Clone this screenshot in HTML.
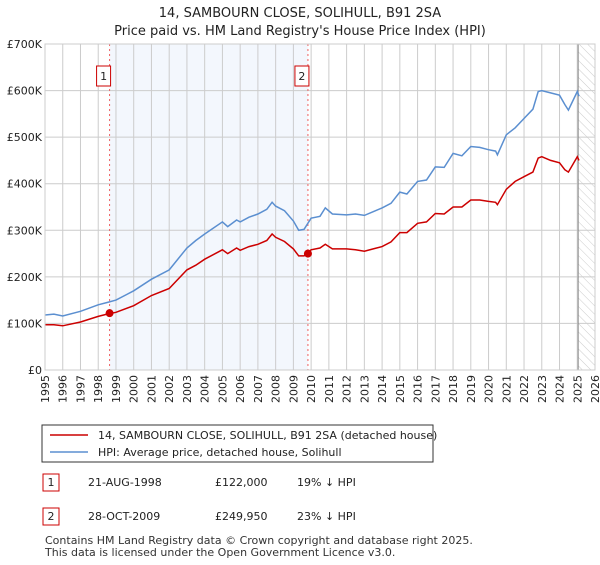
<!DOCTYPE html>
<html><head><meta charset="utf-8"><style>
body{margin:0;background:#fff;font-family:"Liberation Sans","DejaVu Sans",sans-serif;}
svg text{font-family:"DejaVu Sans","Liberation Sans",sans-serif;}
</style></head><body>
<svg id="c" width="600" height="560" xmlns="http://www.w3.org/2000/svg">
<defs><pattern id="hatch" width="6" height="6" patternUnits="userSpaceOnUse" patternTransform="rotate(-45)"><line x1="0" y1="0" x2="0" y2="6" stroke="#ccc" stroke-width="1"/></pattern></defs>
<text x="300" y="17" text-anchor="middle" font-size="13" fill="#222">14, SAMBOURN CLOSE, SOLIHULL, B91 2SA</text>
<text x="300" y="35" text-anchor="middle" font-size="13" fill="#222">Price paid vs. HM Land Registry's House Price Index (HPI)</text>
<g id="plot"></g>
<g>
<rect x="42" y="425" width="391" height="37" fill="#fff" stroke="#333" stroke-width="1"/>
<line x1="50" y1="435" x2="88" y2="435" stroke="#cc0000" stroke-width="1.5"/>
<text x="98" y="439" font-size="11" fill="#222">14, SAMBOURN CLOSE, SOLIHULL, B91 2SA (detached house)</text>
<line x1="50" y1="452" x2="88" y2="452" stroke="#5b8fd0" stroke-width="1.5"/>
<text x="98" y="456" font-size="11" fill="#222">HPI: Average price, detached house, Solihull</text>
</g>
<g font-size="11" fill="#222">
<rect x="43" y="474" width="16" height="17" fill="#fff" stroke="#cc0000"/><text x="51" y="486" text-anchor="middle">1</text>
<text x="88" y="486">21-AUG-1998</text><text x="215" y="486">£122,000</text><text x="297" y="486">19% ↓ HPI</text>
<rect x="43" y="508" width="16" height="17" fill="#fff" stroke="#cc0000"/><text x="51" y="520" text-anchor="middle">2</text>
<text x="88" y="520">28-OCT-2009</text><text x="215" y="520">£249,950</text><text x="297" y="520">23% ↓ HPI</text>
</g>
<text x="45" y="544" font-size="11" fill="#333">Contains HM Land Registry data © Crown copyright and database right 2025.</text>
<text x="45" y="556" font-size="11" fill="#333">This data is licensed under the Open Government Licence v3.0.</text>
</svg>
<script>
const years=[1995,1995.5,1996,1997,1998,1998.5,1999,2000,2001,2002,2003,2003.5,2004,2005,2005.3,2005.8,2006,2006.5,2007,2007.5,2007.8,2008,2008.5,2009,2009.3,2009.6,2010,2010.5,2010.8,2011.2,2012,2012.5,2013,2013.5,2014,2014.5,2015,2015.4,2016,2016.5,2017,2017.5,2018,2018.5,2019,2019.5,2020,2020.4,2020.5,2021,2021.5,2022,2022.5,2022.8,2023,2023.5,2024,2024.3,2024.5,2025,2025.1];
const hpiValues=[118,120,116,126,140,145,150,170,195,215,262,278,292,318,308,322,318,328,335,345,360,352,342,320,300,302,326,330,348,335,333,335,332,340,348,358,382,378,405,408,436,435,465,460,480,478,473,470,462,505,520,540,560,598,600,595,590,570,558,598,588];
const priceValues=[97,97,95,103,115,120,124,138,160,175,215,225,238,258,250,262,257,265,270,278,292,285,276,260,245,245,258,262,270,260,260,258,255,260,265,275,295,295,315,318,336,335,350,350,365,365,362,360,355,388,405,415,425,455,458,450,445,430,425,458,450];
const saleDates=[1998.64,2009.82];
const salePrices=[122,249.95];
const saleLabels=["1","2"];
const yTicks=[0,100,200,300,400,500,600,700];
const yTickLabels=["£0","£100K","£200K","£300K","£400K","£500K","£600K","£700K"];
const xTicks=[1995,1996,1997,1998,1999,2000,2001,2002,2003,2004,2005,2006,2007,2008,2009,2010,2011,2012,2013,2014,2015,2016,2017,2018,2019,2020,2021,2022,2023,2024,2025,2026];
const dataEnd=2025.05;

const L=45,R=595,T=44,B=370;
const x=v=>L+(v-1995)/(2026-1995)*(R-L);
const y=v=>B-v/700*(B-T);
const NS="http://www.w3.org/2000/svg";
const g=document.getElementById('plot');
function mk(t,a){const e=document.createElementNS(NS,t);for(const k in a)e.setAttribute(k,a[k]);g.appendChild(e);return e;}
let e;
e=mk('rect',{x:L,y:T,width:R-L,height:B-T,fill:'#fff'});


e=mk('rect',{x:x(saleDates[0]),y:T,width:x(saleDates[1])-x(saleDates[0]),height:B-T,fill:'#eef3fc',opacity:0.7});


e=mk('rect',{x:x(dataEnd),y:T,width:R-x(dataEnd),height:B-T,fill:'url(#hatch)'});


xTicks.forEach(v=>{
 e=mk('line',{x1:x(v),x2:x(v),y1:T,y2:B,stroke:'#ccc','stroke-width':1});
 
 
 e=mk('text',{x:0,y:0,transform:`translate(${x(v)+4},${B+5}) rotate(-90)`,'text-anchor':'end','font-size':11,fill:'#222'});
 e.textContent=v;
 
 
});
yTicks.forEach((v,i)=>{
 e=mk('line',{x1:L,x2:R,y1:y(v),y2:y(v),stroke:'#ccc','stroke-width':1});
 
 
 e=mk('text',{x:L-3,y:y(v)+4,'text-anchor':'end','font-size':11,fill:'#222'});
 e.textContent=yTickLabels[i];
 
 
});
e=mk('line',{x1:x(dataEnd),x2:x(dataEnd),y1:T,y2:B,stroke:'#888','stroke-width':1});


saleDates.forEach((d,i)=>{
 e=mk('line',{x1:x(d),x2:x(d),y1:T,y2:B,stroke:'#f06060','stroke-width':1,'stroke-dasharray':'2,3'});
 
 
});
const pts=a=>years.map((yr,i)=>x(yr).toFixed(1)+','+y(a[i]).toFixed(1)).join(' ');
e=mk('polyline',{points:pts(hpiValues),fill:'none',stroke:'#5b8fd0','stroke-width':1.5});


e=mk('polyline',{points:pts(priceValues),fill:'none',stroke:'#cc0000','stroke-width':1.5});


saleDates.forEach((d,i)=>{
 e=mk('circle',{cx:x(d),cy:y(salePrices[i]),r:4,fill:'#cc0000'});
 
 
 e=mk('rect',{x:x(d)-13,y:66,width:14,height:20,fill:'#fff',stroke:'#cc0000','stroke-width':1});
 
 
 e=mk('text',{x:x(d)-6,y:80,'text-anchor':'middle','font-size':11,fill:'#222'});
 e.textContent=saleLabels[i];
 
 
});
e=mk('rect',{x:L,y:T,width:R-L,height:B-T,fill:'none',stroke:'#ccc'});


</script>
</body></html>
